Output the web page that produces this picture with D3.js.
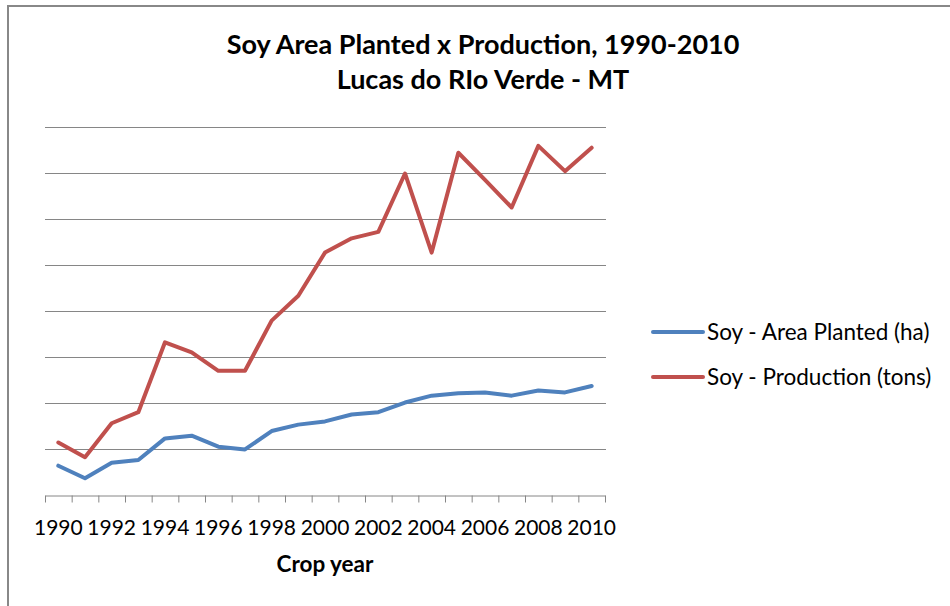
<!DOCTYPE html>
<html>
<head>
<meta charset="utf-8">
<script src="https://cdn.jsdelivr.net/npm/d3@7"></script>
<style>
  html, body { margin: 0; padding: 0; background: #fff; }
  svg { display: block; }
</style>
</head>
<body>
<svg id="chart" width="950" height="606"></svg>
<script>
const years = d3.range(1990, 2011);
const tickLabelYears = [1990, 1992, 1994, 1996, 1998, 2000, 2002, 2004, 2006, 2008, 2010];
const areaPlanted = [63700, 36300, 70000, 76000, 123000, 129000, 105000, 99000, 139000, 153000, 160000,
                     175000, 180000, 201000, 216000, 221000, 223000, 216000, 227000, 223000, 237000];
const production = [114000, 82000, 156000, 180000, 332000, 310000, 270000, 270000, 379000, 433000, 527000,
                    558000, 572000, 699000, 527000, 744000, 685000, 625000, 759000, 704000, 755000];
const seriesNames = ["Soy - Area Planted (ha)", "Soy - Production (tons)"];
const gridValues = [100000, 200000, 300000, 400000, 500000, 600000, 700000, 800000];
const titleLines = ["Soy Area Planted x Production, 1990-2010", "Lucas do RIo Verde - MT"];
const xTitle = "Crop year";

const colors = ["#4F81BD", "#C0504D"];
const series = [areaPlanted, production];
const svg = d3.select("#chart");
const font = "Lato, 'Open Sans', sans-serif";

// outer frame (top and left edges visible)
svg.append("line").attr("x1", 8).attr("x2", 950).attr("y1", 6).attr("y2", 6)
  .attr("stroke", "#888").attr("stroke-width", 2);
svg.append("line").attr("x1", 8).attr("x2", 8).attr("y1", 5).attr("y2", 606)
  .attr("stroke", "#888").attr("stroke-width", 2);

const pLeft = 45, pRight = 605, pTop = 127, pBottom = 495;
const x = d3.scaleBand().domain(years).range([pLeft, pRight]);
const xEdge = d3.scaleLinear().domain([1989.5, 2010.5]).range([pLeft, pRight]);
const y = d3.scaleLinear().domain([0, 800000]).range([pBottom, pTop]);

// gridlines
svg.append("g").selectAll("line").data(gridValues).join("line")
  .attr("x1", pLeft).attr("x2", pRight + 1)
  .attr("y1", d => Math.round(y(d)) + 0.5).attr("y2", d => Math.round(y(d)) + 0.5)
  .attr("stroke", "#868686").attr("stroke-width", 1);

// x axis with ticks at category boundaries
const edges = d3.range(1989.5, 2011, 1);
const axisG = svg.append("g").attr("transform", `translate(0,${pBottom + 0.5})`)
  .call(d3.axisBottom(xEdge).tickValues(edges).tickSize(7).tickFormat("").tickSizeOuter(0));
axisG.select(".domain").attr("stroke", "#868686");
axisG.selectAll(".tick line").attr("stroke", "#868686");

// tick labels at category centers
svg.append("g").selectAll("text").data(tickLabelYears).join("text")
  .attr("x", d => x(d) + x.bandwidth() / 2)
  .attr("y", 535)
  .attr("text-anchor", "middle")
  .attr("font-family", font).attr("font-size", 21).attr("fill", "#000")
  .text(d => d);

// axis title
svg.append("text").attr("x", (pLeft + pRight) / 2).attr("y", 572)
  .attr("text-anchor", "middle").attr("font-family", font).attr("font-weight", "bold")
  .attr("font-size", 22.5).attr("fill", "#000").text(xTitle);

// chart title
svg.append("g").selectAll("text").data(titleLines).join("text")
  .attr("x", 483).attr("y", (d, i) => 54 + i * 35)
  .attr("text-anchor", "middle").attr("font-family", font).attr("font-weight", "bold")
  .attr("font-size", 27).attr("fill", "#000").text(d => d);

// lines
const line = d3.line()
  .x((d, i) => x(years[i]) + x.bandwidth() / 2)
  .y(d => y(d));
svg.append("g").selectAll("path").data(series).join("path")
  .attr("d", d => line(d))
  .attr("fill", "none")
  .attr("stroke", (d, i) => colors[i])
  .attr("stroke-width", 4)
  .attr("stroke-linejoin", "round")
  .attr("stroke-linecap", "round");

// legend
const leg = svg.append("g").selectAll("g").data(seriesNames).join("g")
  .attr("transform", (d, i) => `translate(653,${332 + i * 45})`);
leg.append("line").attr("x1", 0).attr("x2", 50).attr("y1", 0).attr("y2", 0)
  .attr("stroke", (d, i) => colors[i]).attr("stroke-width", 4).attr("stroke-linecap", "round");
leg.append("text").attr("x", 54).attr("y", 8)
  .attr("font-family", font).attr("font-size", 22.5).attr("fill", "#000").text(d => d);
</script>
</body>
</html>
